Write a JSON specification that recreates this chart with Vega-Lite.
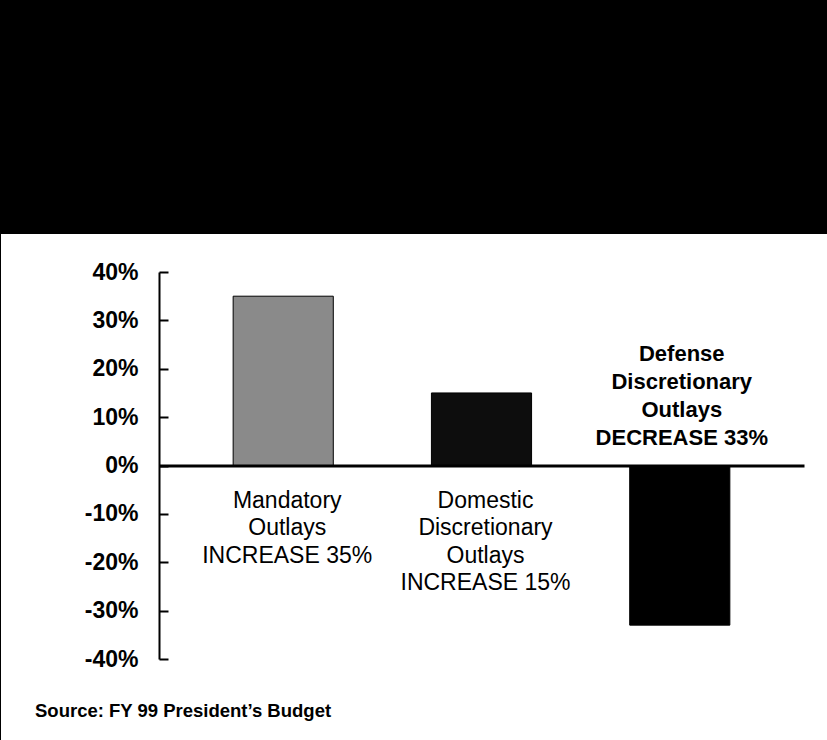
{
  "$schema": "https://vega.github.io/schema/vega-lite/v6.json",
  "width": 828,
  "height": 508,
  "autosize": "none",
  "padding": {"left": 0, "top": 233, "right": 0, "bottom": 0},
  "background": "black",
  "config": {
    "view": {"fill": "white", "stroke": "black", "strokeWidth": 2},
    "font": "Liberation Sans"
  },
  "title": {
    "text": "Source:  FY 99 President’s Budget",
    "orient": "bottom",
    "anchor": "start",
    "frame": "group",
    "offset": -24,
    "dx": 35,
    "baseline": "alphabetic",
    "fontSize": 18.5,
    "fontWeight": "bold",
    "color": "black",
    "font": "Liberation Sans"
  },
  "data": {
    "values": [
      {"category": "Mandatory", "value": 35, "label": ["Mandatory", "Outlays", "INCREASE 35%"]},
      {"category": "Domestic", "value": 15, "label": ["Domestic", "Discretionary", "Outlays", "INCREASE 15%"]},
      {"category": "Defense", "value": -33, "label": ["Defense", "Discretionary", "Outlays", "DECREASE 33%"]}
    ]
  },
  "layer": [
    {
      "mark": {"type": "bar", "stroke": "black", "strokeWidth": 1},
      "encoding": {
        "x": {
          "field": "category",
          "type": "nominal",
          "sort": null,
          "scale": {"range": [159, 804], "paddingInner": 0.495, "paddingOuter": 0.374},
          "axis": {
            "orient": "bottom",
            "offset": -275.5,
            "labels": false,
            "ticks": false,
            "title": null,
            "grid": false,
            "domainWidth": 3,
            "domainColor": "black",
            "zindex": 1
          }
        },
        "y": {
          "field": "value",
          "type": "quantitative",
          "scale": {"domain": [-40, 40], "range": [426, 39], "nice": false},
          "axis": {
            "orient": "left",
            "offset": -159,
            "values": [-40, -30, -20, -10, 0, 10, 20, 30, 40],
            "labelExpr": "datum.value + '%'",
            "tickSize": -9,
            "tickWidth": 2,
            "tickColor": "black",
            "domainColor": "black",
            "domainWidth": 2,
            "labelPadding": 30,
            "labelFontSize": 23,
            "labelFontWeight": "bold",
            "labelColor": "black",
            "labelFont": "Liberation Sans",
            "labelOverlap": false,
            "labelFlush": false,
            "grid": false,
            "title": null,
            "zindex": 1
          }
        },
        "color": {
          "field": "category",
          "type": "nominal",
          "sort": null,
          "scale": {"domain": ["Mandatory", "Domestic", "Defense"], "range": ["#8a8a8a", "#0d0d0d", "#000000"]},
          "legend": null
        }
      }
    },
    {
      "transform": [{"filter": "datum.value >= 0"}],
      "mark": {"type": "text", "baseline": "top", "align": "center", "dy": 24, "dx": 4, "fontSize": 23, "lineHeight": 27.5, "color": "black", "font": "Liberation Sans"},
      "encoding": {
        "x": {"field": "category", "type": "nominal", "sort": null},
        "y": {"datum": 0},
        "text": {"field": "label"}
      }
    },
    {
      "transform": [{"filter": "datum.value < 0"}],
      "mark": {"type": "text", "baseline": "top", "align": "center", "dy": -122, "dx": 2, "fontSize": 22, "fontWeight": "bold", "lineHeight": 28, "color": "black", "font": "Liberation Sans"},
      "encoding": {
        "x": {"field": "category", "type": "nominal", "sort": null},
        "y": {"datum": 0},
        "text": {"field": "label"}
      }
    }
  ]
}
